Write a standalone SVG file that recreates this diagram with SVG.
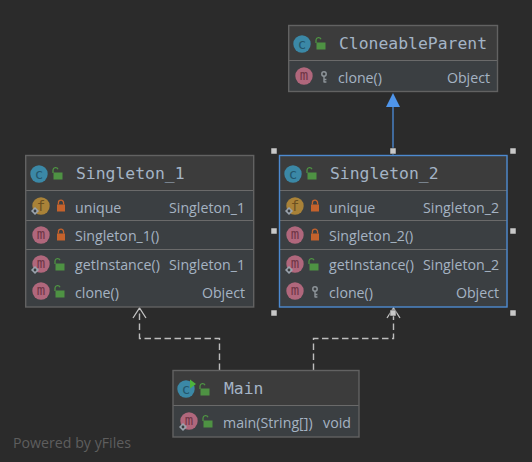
<svg xmlns="http://www.w3.org/2000/svg" xmlns:xlink="http://www.w3.org/1999/xlink" width="532" height="462" viewBox="0 0 532 462">
<style>
text{font-family:"Open Sans","Noto Sans","Liberation Sans",sans-serif;font-size:14.2px;fill:#a5b3c2}
.t{font-family:"DejaVu Sans Mono","Liberation Mono",monospace;font-size:16.400px;fill:#a4b4c6}
.e{text-anchor:end}
.head{fill:#3c3c3c}
.body{fill:#3b3f42}
.box{fill:none;stroke:#626262;stroke-width:1.4}
.sel{fill:none;stroke:#4d8ad0;stroke-width:1.4}
.div{stroke:#6a6a6a;stroke-width:1}
.h{fill:#c8c8c8;stroke:#2b2b2b;stroke-width:.5}
.c{fill:#3b88a6}.f{fill:#a98238}.m{fill:#b0677c}
.g{font-size:14px;text-anchor:middle;font-family:"DejaVu Sans Mono",monospace}
.gc{fill:#24566b}.gf{fill:#6b5020}.gm{fill:#6f3646}
.dash{fill:none;stroke:#bdbdbd;stroke-width:1.400;stroke-dasharray:6.500 3.500}
.open{fill:none;stroke:#c4c4c4;stroke-width:1.300}
</style>
<defs>
<g id="pub"><rect x="-4.500" y="-1.500" width="9" height="7" fill="#4e9243"/><path d="M-5 -1v-3a2.600 2.600 0 0 1 5 -.8" fill="none" stroke="#4e9243" stroke-width="1.300"/></g>
<g id="pri"><rect x="-4" y="-1.500" width="8" height="7" fill="#c4622c"/><path d="M-2.600 -1.500v-1.700a2.600 2.600 0 0 1 5.200 0v1.700" fill="none" stroke="#c4622c" stroke-width="1.300"/></g>
<g id="key"><circle cx="0" cy="-3" r="2.200" fill="none" stroke="#8d9499" stroke-width="1.500"/><path d="M0 -1v6.500M0 2.500h2.400M0 5h2.400" stroke="#8d9499" stroke-width="1.400" fill="none"/></g>
<g id="static"><path d="M0 -4L4 0L0 4L-4 0Z" fill="#9aa3ad"/><circle r="1.400" fill="#3b3f42"/></g>
</defs>
<rect width="532" height="462" fill="#2b2b2b"/>
<text x="13" y="448" style="font-size:14.200px;fill:#5e5e5e">Powered by yFiles</text>

<g id="connectors">
<path d="M393 155V106" stroke="#4f95ea" stroke-width="1.200" fill="none"/>
<path d="M393 93L400 107H386Z" fill="#4f95ea"/>
<path class="dash" d="M219.500 370V338.500H139.500V309"/>
<path class="open" d="M133 318L139.500 308L146 318"/>
<path class="dash" d="M313.500 370V338.500H393.500V309"/>
<path class="open" d="M387 318L393.500 308L400 318"/>
</g>

<g id="CloneableParent">
<rect class="head" x="289" y="26" width="208.500" height="35"/>
<rect class="body" x="289" y="61" width="208.500" height="31"/>
<path class="div" d="M289 60.500H497.500"/>
<rect class="box" x="288.700" y="25.500" width="208.800" height="66"/>
<circle class="c" cx="302" cy="44" r="8.700"/><text class="g gc" x="302" y="48.500">c</text>
<use xlink:href="#pub" href="#pub" x="321" y="44"/>
<text class="t" x="339" y="49">CloneableParent</text>
<circle class="m" cx="304" cy="76" r="8.700"/><text class="g gm" x="304" y="80">m</text>
<use xlink:href="#key" href="#key" x="324" y="77"/>
<text x="338" y="83">clone()</text>
<text class="e" x="490" y="83">Object</text>
</g>

<g id="Singleton_1">
<rect class="head" x="26" y="156" width="228" height="35"/>
<rect class="body" x="26" y="191" width="228" height="116"/>
<path class="div" d="M26 190.500H254M26 220.500H254M26 249.500H254"/>
<rect class="box" x="25.700" y="155.500" width="228" height="151.500"/>
<circle class="c" cx="39" cy="174" r="8.700"/><text class="g gc" x="39" y="178.500">c</text>
<use xlink:href="#pub" href="#pub" x="58" y="174"/>
<text class="t" x="76" y="179">Singleton_1</text>
<circle class="f" cx="41" cy="206" r="8.700"/><text class="g gf" x="41" y="211">f</text>
<use xlink:href="#static" href="#static" x="35" y="211"/>
<use xlink:href="#pri" href="#pri" x="61" y="206"/>
<text x="75" y="213">unique</text>
<text class="e" x="245" y="213">Singleton_1</text>
<circle class="m" cx="41" cy="235" r="8.700"/><text class="g gm" x="41" y="239">m</text>
<use xlink:href="#pri" href="#pri" x="61" y="235"/>
<text x="75" y="241">Singleton_1()</text>
<circle class="m" cx="41" cy="264" r="8.700"/><text class="g gm" x="41" y="268">m</text>
<use xlink:href="#static" href="#static" x="35" y="270"/>
<use xlink:href="#pub" href="#pub" x="60" y="265"/>
<text x="75" y="270">getInstance()</text>
<text class="e" x="245" y="270">Singleton_1</text>
<circle class="m" cx="41" cy="291" r="8.700"/><text class="g gm" x="41" y="295">m</text>
<use xlink:href="#pub" href="#pub" x="60" y="292"/>
<text x="75" y="298">clone()</text>
<text class="e" x="245" y="298">Object</text>
</g>

<g id="Singleton_2">
<rect class="head" x="279.500" y="156" width="228" height="35"/>
<rect class="body" x="279.500" y="191" width="228" height="116"/>
<path class="div" d="M279.500 190.500H507M279.500 220.500H507M279.500 249.500H507"/>
<rect class="sel" x="279.500" y="155.500" width="227.500" height="151.500"/>
<circle class="c" cx="293" cy="174" r="8.700"/><text class="g gc" x="293" y="178.500">c</text>
<use xlink:href="#pub" href="#pub" x="312" y="174"/>
<text class="t" x="330" y="179">Singleton_2</text>
<circle class="f" cx="295" cy="206" r="8.700"/><text class="g gf" x="295" y="211">f</text>
<use xlink:href="#static" href="#static" x="289" y="211"/>
<use xlink:href="#pri" href="#pri" x="315" y="206"/>
<text x="329" y="213">unique</text>
<text class="e" x="499" y="213">Singleton_2</text>
<circle class="m" cx="295" cy="235" r="8.700"/><text class="g gm" x="295" y="239">m</text>
<use xlink:href="#pri" href="#pri" x="315" y="235"/>
<text x="329" y="241">Singleton_2()</text>
<circle class="m" cx="295" cy="264" r="8.700"/><text class="g gm" x="295" y="268">m</text>
<use xlink:href="#static" href="#static" x="289" y="270"/>
<use xlink:href="#pub" href="#pub" x="314" y="265"/>
<text x="329" y="270">getInstance()</text>
<text class="e" x="499" y="270">Singleton_2</text>
<circle class="m" cx="295" cy="291" r="8.700"/><text class="g gm" x="295" y="295">m</text>
<use xlink:href="#key" href="#key" x="315" y="292"/>
<text x="329" y="298">clone()</text>
<text class="e" x="499" y="298">Object</text>
</g>

<g id="Main">
<rect class="head" x="173" y="371" width="186" height="35"/>
<rect class="body" x="173" y="406" width="186" height="31"/>
<path class="div" d="M173 405.500H359"/>
<rect class="box" x="173" y="370.500" width="186" height="66.500"/>
<circle class="c" cx="186" cy="389" r="8.700"/><text class="g gc" x="186" y="393.500">c</text>
<path d="M190 379.500L196 384L190 388.500Z" fill="#4db33d"/>
<use xlink:href="#pub" href="#pub" x="205" y="390"/>
<text class="t" x="224" y="394">Main</text>
<circle class="m" cx="189" cy="421" r="8.700"/><text class="g gm" x="189" y="425">m</text>
<use xlink:href="#static" href="#static" x="183" y="427"/>
<use xlink:href="#pub" href="#pub" x="208" y="422"/>
<text x="223" y="428">main(String[])</text>
<text class="e" x="351" y="428">void</text>
</g>

<g id="handles">
<rect class="h" x="271" y="148" width="6" height="6"/><rect class="h" x="390" y="148" width="6" height="6"/><rect class="h" x="510" y="148" width="6" height="6"/>
<rect class="h" x="271" y="228" width="6" height="6"/><rect class="h" x="510" y="228" width="6" height="6"/>
<rect class="h" x="271" y="310" width="6" height="6"/><rect class="h" x="390" y="310" width="6" height="6"/><rect class="h" x="510" y="310" width="6" height="6"/>
</g>
</svg>
